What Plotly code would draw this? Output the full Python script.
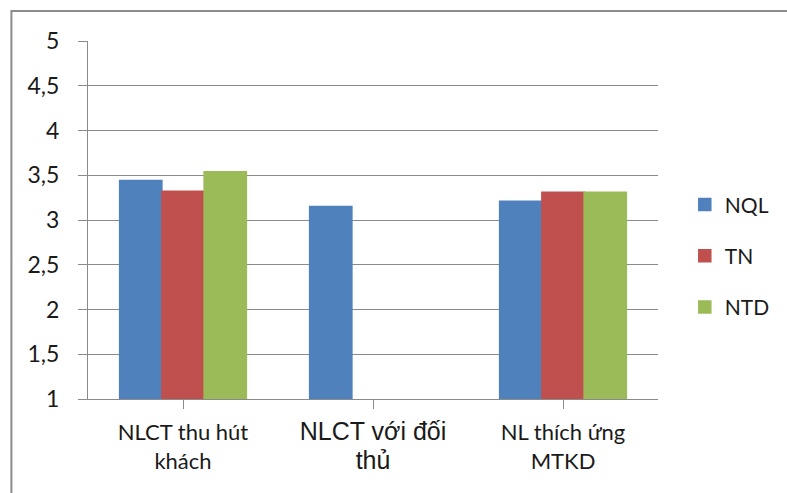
import plotly.graph_objects as go

# Survey scores by competency group and respondent type
categories = [
    "NLCT thu hút<br>khách",
    "<span style=\"font-family:'Liberation Sans', Arial; font-size:25px\">NLCT với đối<br>thủ</span>",
    "NL thích ứng<br>MTKD",
]
series_names = ["NQL", "TN", "NTD"]
nql = [3.44, 3.15, 3.21]
tn = [3.32, None, 3.31]
ntd = [3.54, None, 3.31]
colors = ["#4F81BD", "#C0504D", "#9BBB59"]

y_ticks = [1, 1.5, 2, 2.5, 3, 3.5, 4, 4.5, 5]
y_tick_labels = ["1", "1,5", "2", "2,5", "3", "3,5", "4", "4,5", "5"]

W, H = 787, 493
ML, MR, MT, MB = 88, 126, 41, 94

fig = go.Figure()
for i, (name, vals) in enumerate(zip(series_names, [nql, tn, ntd])):
    fig.add_trace(go.Bar(
        name=name,
        x=[0, 1, 2],
        y=vals,
        marker=dict(color=colors[i], line=dict(width=1.5, color=colors[i])),
        legendgroup=name,
    ))

grid_col = "#8a8a8a"
fig.update_layout(
    width=W, height=H,
    margin=dict(l=ML, r=MR, t=MT, b=MB, pad=0),
    paper_bgcolor="white",
    plot_bgcolor="white",
    barmode="group",
    bargap=0.333,
    bargroupgap=0,
    font=dict(family="Lato, 'Open Sans', sans-serif", size=20, color="#1a1a1a"),
    showlegend=True,
    legend=dict(
        x=1.047, xref="paper", xanchor="left",
        y=0.4, yanchor="middle",
        font=dict(size=21, family="Lato, sans-serif"),
        tracegroupgap=21,
        itemwidth=30,
        bgcolor="rgba(0,0,0,0)",
    ),
    xaxis=dict(
        tickmode="array",
        tickvals=[0, 1, 2],
        ticktext=categories,
        range=[-0.5, 2.5],
        ticks="outside",
        tickson="boundaries",
        ticklen=9,
        tickcolor=grid_col,
        showline=True,
        linecolor=grid_col,
        linewidth=1,
        showgrid=False,
        zeroline=False,
        tickfont=dict(size=22),
        ticklabelstandoff=5,
    ),
    yaxis=dict(
        range=[1, 5],
        tickmode="array",
        tickvals=y_ticks,
        ticktext=y_tick_labels,
        ticks="outside",
        ticklen=9,
        tickcolor=grid_col,
        showline=True,
        linecolor=grid_col,
        linewidth=1,
        showgrid=True,
        gridcolor=grid_col,
        gridwidth=1,
        zeroline=False,
        tickfont=dict(size=23),
        ticklabelstandoff=14,
    ),
)

# Outer chart frame (top and left edges visible, rest runs off the page)
pw, ph = W - ML - MR, H - MT - MB
fig.add_shape(
    type="rect", xref="paper", yref="paper",
    x0=(11 - ML) / pw, x1=(W + 20 - ML) / pw,
    y0=-(MB + 20) / ph, y1=1 + (MT - 11) / ph,
    line=dict(color="#8c8c8c", width=2),
    fillcolor="rgba(0,0,0,0)",
    layer="below",
)

fig.write_html("out.html")
